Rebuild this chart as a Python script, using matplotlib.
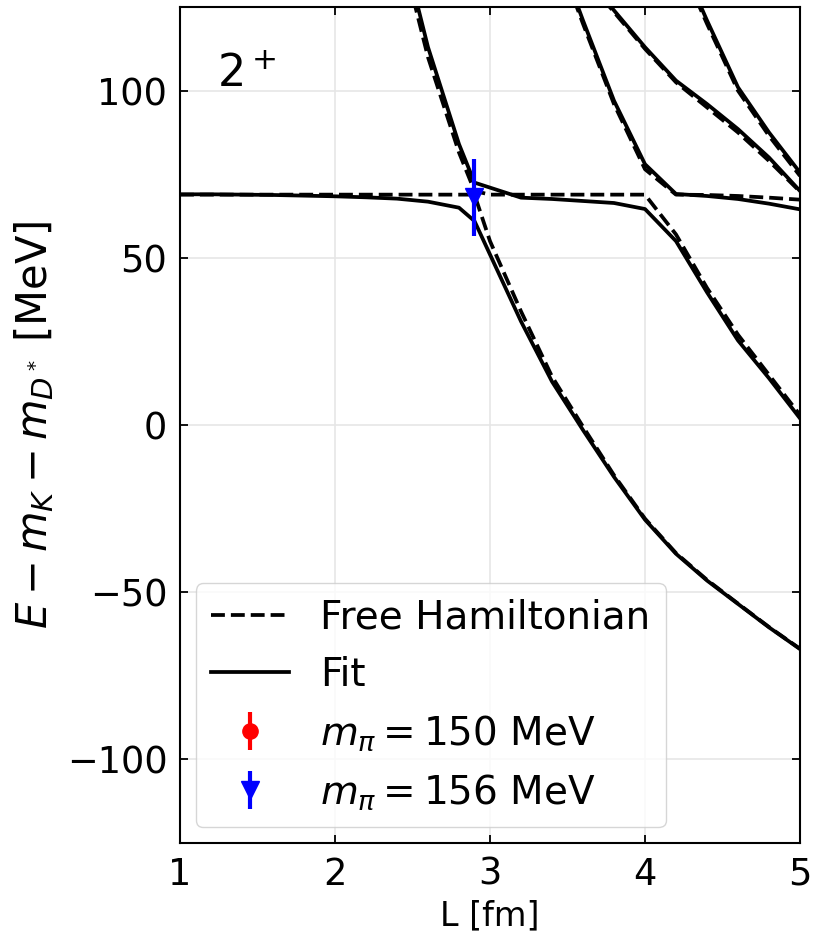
import numpy as np
from matplotlib import pyplot as plt

nan = np.nan

# box sizes L [fm] where the spectrum was evaluated
L_grid = [1.0, 1.2, 1.4, 1.6, 1.8, 2.0, 2.2, 2.4, 2.6, 2.8, 2.9,
          3.0, 3.2, 3.4, 3.6, 3.8, 4.0, 4.2, 4.4, 4.6, 4.8, 5.0]

# free Hamiltonian levels (sorted), MeV
free_1 = [68.9, 68.9, 68.9, 68.9, 68.9, 68.9, 68.9, 68.9, 68.9, 68.9, 68.9,
          55.0, 34.0, 14.5, -0.5, -15.0, -28.0, -38.3, -46.3, -53.4, -60.4, -66.9]
free_2 = [nan, nan, nan, nan, nan, nan, nan, 147.0, 110.0, 81.5, 70.0,
          68.9, 68.9, 68.9, 68.9, 68.9, 68.9, 57.0, 41.0, 27.0, 15.0, 3.0]
free_3 = [nan] * 13 + [145.0, 120.0, 96.0, 76.5, 68.9, 68.8, 68.5, 68.0, 67.4]
free_4 = [nan] * 14 + [134.5, 123.5, 112.5, 102.5, 95.0, 87.5, 79.0, 69.8]
free_5 = [nan] * 17 + [141.0, 120.0, 100.0, 86.5, 74.5]

# fitted Hamiltonian levels, MeV
fit_1 = [69.0, 69.0, 68.9, 68.8, 68.6, 68.4, 68.1, 67.7, 66.8, 65.0, 61.0,
         51.0, 31.0, 13.0, -1.5, -15.5, -28.3, -38.5, -46.5, -53.5, -60.5, -67.0]
fit_2 = [nan, nan, nan, nan, nan, nan, nan, 150.0, 113.0, 84.0, 72.5,
         71.0, 68.0, 67.6, 67.0, 66.4, 64.6, 55.0, 39.7, 25.3, 14.0, 2.0]
fit_3 = [nan] * 13 + [146.0, 121.0, 97.0, 78.0, 69.1, 68.5, 67.6, 66.2, 64.5]
fit_4 = [nan] * 14 + [135.0, 124.0, 113.0, 103.0, 96.0, 88.5, 80.0, 70.0]
fit_5 = [nan] * 17 + [142.0, 121.0, 101.0, 87.5, 75.5]

# lattice points
lat_L_150, lat_E_150, lat_err_150 = [], [], []
lat_L_156, lat_E_156, lat_err_156 = [2.9], [68.1], [11.5]

fig = plt.figure(figsize=(8.13, 9.39), dpi=100)
ax = fig.add_axes([0.2214, 0.1022, 0.7626, 0.8903])

for i, lev in enumerate([fit_1, fit_2, fit_3, fit_4, fit_5]):
	ax.plot(L_grid, lev, '-', color='black', lw=2.7,
		label='Fit' if i == 0 else None, zorder=3)
for i, lev in enumerate([free_1, free_2, free_3, free_4, free_5]):
	ax.plot(L_grid, lev, '--', color='black', lw=2.7,
		label='Free Hamiltonian' if i == 0 else None, zorder=4)

ax.errorbar(lat_L_150, lat_E_150, yerr=lat_err_150, fmt='o', color='red',
	ms=11, elinewidth=3, label=r'$m_\pi = 150$ MeV', zorder=5)
ax.errorbar(lat_L_156, lat_E_156, yerr=lat_err_156, fmt='v', color='blue',
	ms=13, elinewidth=3, label=r'$m_\pi = 156$ MeV', zorder=6)

ax.set_xlim(1, 5)
ax.set_ylim(-125, 125)
ax.set_xticks([1, 2, 3, 4, 5])
ax.set_yticks([-100, -50, 0, 50, 100])
ax.grid(True, color='#e6e6e6', lw=1.2)
ax.set_axisbelow(True)
ax.tick_params(direction='in', top=True, right=True, labelsize=26.5,
	length=6, width=1.3, pad=9)
for s in ax.spines.values():
	s.set_linewidth(1.5)

ax.set_xlabel('L [fm]', fontsize=24, labelpad=5)
ax.set_ylabel(r'$E - m_K - m_{D^*}$ [MeV]', fontsize=30, labelpad=8)
ax.text(0.06, 0.945, r'$2^+$', transform=ax.transAxes, fontsize=32,
	va='top', ha='left')

handles, labels = ax.get_legend_handles_labels()
order = [labels.index(k) for k in
	['Free Hamiltonian', 'Fit', r'$m_\pi = 150$ MeV', r'$m_\pi = 156$ MeV']]
ax.legend([handles[k] for k in order], [labels[k] for k in order],
	loc='lower left', fontsize=28, borderaxespad=0.4)

fig.savefig('out.png')
